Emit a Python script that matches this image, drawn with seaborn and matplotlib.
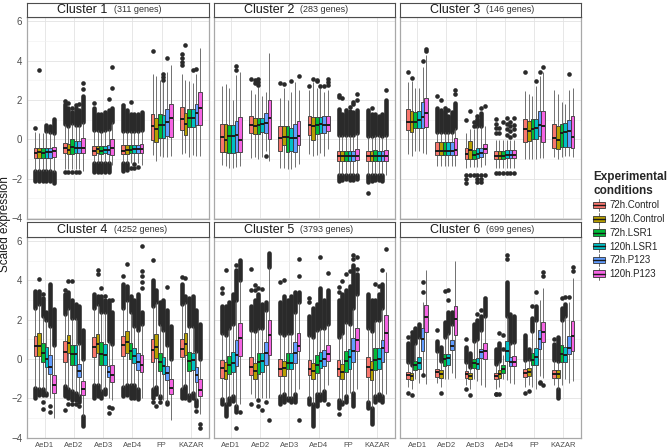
import numpy as np
import pandas as pd
import matplotlib
matplotlib.use("Agg")
import matplotlib.pyplot as plt
from matplotlib.patches import Patch, Rectangle
from matplotlib.lines import Line2D
from matplotlib.legend_handler import HandlerBase
import seaborn as sns

nan = np.nan

tissues = ["AeD1", "AeD2", "AeD3", "AeD4", "FP", "KAZAR"]
conditions = ["72h.Control", "120h.Control", "72h.LSR1", "120h.LSR1", "72h.P123", "120h.P123"]
palette = ["#F8766D", "#B79F00", "#00BA38", "#00BFC4", "#619CFF", "#F564E3"]
clusters = [1, 2, 3, 4, 5, 6]
gene_counts = [311, 283, 146, 4252, 3793, 699]

# box statistics: rows = tissues, columns = conditions
whisk_lo = {
    1: [[-1.6, -1.6, -1.6, -1.6, -1.6, -1.65], [-1.5, -1.5, -1.5, -1.5, -1.5, -1.6], [-1.2, -1.2, -1.2, -1.2, -1.2, -1.3],
        [-1.2, -1.2, -1.2, -1.15, -1.2, -1.3], [-0.8, -1.1, -0.85, -0.9, -0.9, -0.85], [-0.75, -0.7, -0.9, -0.8, -0.85, -0.85]],
    2: [[-1.3, -1.35, -1.45, -1.45, -1.4, -1.35], [-0.95, -0.9, -1.0, -0.9, -0.6, -1.1], [-1.45, -1.45, -1.5, -1.5, -1.4, -1.25],
        [-0.75, -0.85, -0.8, -0.7, -0.85, -0.5], [-1.8, -1.8, -1.8, -1.8, -1.8, -1.8], [-1.8, -1.8, -1.8, -1.8, -1.8, -1.8]],
    3: [[-0.75, -0.85, -0.6, -0.6, -0.7, -0.75], [-1.35, -1.35, -1.35, -1.35, -1.35, -1.35], [-1.45, -1.4, -1.4, -1.4, -1.4, -1.3],
        [-1.45, -1.45, -1.45, -1.45, -1.45, -1.45], [-1.0, -1.0, -1.0, -1.0, -0.95, -0.95], [-0.9, -1.0, -0.9, -0.85, -0.85, -0.9]],
    4: [[-1.45, -1.5, -1.5, -1.7, -2.0, -3.0], [-1.35, -1.5, -1.6, -1.7, -1.9, -2.9], [-1.3, -1.3, -1.6, -1.5, -2.0, -2.1],
        [-1.4, -1.3, -1.3, -1.3, -1.5, -2.0], [-1.5, -1.4, -1.9, -2.1, -2.2, -3.1], [-1.5, -1.35, -1.85, -1.7, -2.1, -2.8]],
    5: [[-2.05, -2.3, -2.0, -1.9, -2.4, -2.3], [-1.8, -2.0, -2.0, -2.0, -2.0, -2.0], [-1.9, -1.8, -2.0, -2.0, -1.8, -1.5],
        [-2.0, -2.3, -1.8, -1.8, -1.6, -1.3], [-2.1, -2.2, -1.9, -1.7, -1.7, -1.5], [-2.2, -2.5, -1.9, -1.8, -1.9, -1.8]],
    6: [[-1.4, -1.5, -1.0, -1.2, -0.75, -1.25], [-1.2, -1.4, -1.0, -1.0, -0.7, -0.95], [-1.3, -1.5, -1.0, -1.1, -1.3, -1.4],
        [-1.5, -1.4, -1.0, -1.05, -1.2, -1.25], [-1.4, -1.3, -1.4, -1.5, -0.85, -0.95], [-1.3, -1.5, -1.3, -1.0, -1.2, -1.1]],
}
q1 = {
    1: [[-0.95, -0.95, -0.95, -0.95, -0.95, -0.9], [-0.7, -0.75, -0.75, -0.7, -0.7, -0.7], [-0.8, -0.7, -0.75, -0.7, -0.75, -0.8],
        [-0.75, -0.75, -0.7, -0.7, -0.7, -0.7], [-0.05, -0.15, 0.05, 0.05, 0.15, 0.1], [0.45, 0.2, 0.65, 0.65, 0.75, 0.75]],
    2: [[-0.65, -0.65, -0.7, -0.7, -0.65, -0.65], [0.3, 0.25, 0.25, 0.35, 0.3, 0.0], [-0.6, -0.3, -0.65, -0.6, -0.65, -0.3],
        [0.2, -0.05, 0.25, 0.3, 0.3, 0.4], [-1.1, -1.1, -1.1, -1.1, -1.1, -1.05], [-1.1, -1.1, -1.1, -1.1, -1.1, -1.1]],
    3: [[0.45, 0.35, 0.55, 0.55, 0.55, 0.65], [-0.8, -0.8, -0.8, -0.8, -0.8, -0.8], [-1.0, -1.0, -1.0, -0.95, -0.9, -0.7],
        [-1.0, -1.0, -1.0, -0.95, -0.95, -0.95], [-0.15, -0.1, 0.0, 0.0, 0.15, -0.15], [-0.45, -0.5, -0.4, -0.4, -0.4, -0.45]],
    4: [[0.15, 0.15, -0.15, -0.4, -0.75, -1.7], [-0.15, 0.3, -0.3, -0.3, -0.9, -1.85], [0.1, 0.3, -0.3, -0.3, -0.9, -1.15],
        [0.15, 0.3, 0.0, -0.2, -0.55, -0.65], [-0.15, 0.05, -0.6, -0.75, -1.05, -1.8], [0.1, 0.2, -0.6, -0.55, -1.15, -1.9]],
    5: [[-0.95, -1.0, -0.75, -0.65, -0.35, 0.15], [-0.8, -1.0, -0.75, -0.65, -0.3, 0.2], [-0.85, -0.85, -0.5, -0.5, -0.2, 0.4],
        [-0.8, -1.0, -0.7, -0.45, -0.35, -0.1], [-0.85, -1.0, -0.65, -0.5, -0.15, 0.4], [-0.9, -1.05, -0.55, -0.5, -0.15, 0.35]],
    6: [[-1.0, -1.05, -0.55, -0.5, 0.4, 1.35], [-0.9, -0.95, -0.35, -0.3, 0.45, 1.2], [-0.95, -1.0, -0.45, -0.5, 0.05, 0.0],
        [-1.0, -0.95, -0.7, -0.1, -0.35, -0.35], [-0.9, -0.85, -0.3, -0.3, 0.5, 0.85], [-0.95, -0.95, -0.15, -0.15, 0.25, 0.4]],
}
median = {
    1: [[-0.7, -0.65, -0.7, -0.65, -0.65, -0.6], [-0.45, -0.55, -0.4, -0.45, -0.45, -0.45], [-0.6, -0.5, -0.6, -0.55, -0.55, -0.45],
        [-0.6, -0.55, -0.55, -0.5, -0.5, -0.5], [0.7, 0.5, 0.75, 0.75, 0.9, 1.1], [1.05, 0.8, 1.1, 1.1, 1.35, 1.6]],
    2: [[0.1, -0.05, 0.15, 0.15, 0.2, -0.05], [0.75, 0.7, 0.75, 0.8, 0.85, 1.1], [0.05, 0.1, 0.1, 0.05, 0.05, 0.15],
        [0.75, 0.7, 0.75, 0.8, 0.75, 0.75], [-0.85, -0.85, -0.85, -0.85, -0.85, -0.85], [-0.85, -0.85, -0.85, -0.85, -0.85, -0.85]],
    3: [[0.9, 0.9, 0.9, 1.0, 1.15, 1.35], [-0.6, -0.6, -0.6, -0.6, -0.6, -0.55], [-0.75, -0.55, -0.8, -0.75, -0.7, -0.5],
        [-0.85, -0.85, -0.85, -0.8, -0.8, -0.8], [0.5, 0.4, 0.5, 0.55, 0.75, 0.7], [0.05, -0.05, 0.3, 0.35, 0.4, 0.12]],
    4: [[0.65, 0.65, 0.3, 0.0, -0.4, -1.3], [0.35, 0.8, 0.25, 0.25, -0.6, -1.5], [0.6, 0.75, 0.25, 0.2, -0.65, -0.8],
        [0.7, 0.85, 0.4, 0.15, -0.15, -0.3], [0.45, 0.6, -0.15, -0.35, -0.7, -1.45], [0.5, 0.75, -0.1, -0.05, -0.8, -1.55]],
    5: [[-0.45, -0.6, -0.3, -0.2, 0.2, 1.05], [-0.4, -0.6, -0.15, -0.1, 0.3, 1.2], [-0.5, -0.45, -0.2, -0.2, 0.3, 0.65],
        [-0.5, -0.6, -0.3, -0.1, 0.0, 0.25], [-0.5, -0.65, -0.1, 0.1, 0.4, 0.95], [-0.4, -0.55, -0.05, 0.0, 0.55, 1.3]],
    6: [[-0.8, -0.85, -0.3, -0.2, 1.0, 2.15], [-0.65, -0.75, 0.0, 0.05, 0.65, 2.05], [-0.75, -0.85, -0.2, -0.25, 0.35, 0.4],
        [-0.85, -0.75, -0.5, 0.4, -0.15, -0.15], [-0.7, -0.65, -0.05, 0.1, 1.0, 1.35], [-0.75, -0.75, 0.25, 0.2, 0.55, 1.15]],
}
q3 = {
    1: [[-0.45, -0.45, -0.45, -0.45, -0.45, -0.4], [-0.2, -0.25, 0.0, -0.1, -0.1, 0.05], [-0.35, -0.35, -0.35, -0.35, -0.3, 0.0],
        [-0.3, -0.3, -0.3, -0.3, -0.3, -0.25], [1.3, 1.1, 1.3, 1.25, 1.55, 1.8], [1.65, 1.35, 1.55, 1.55, 1.8, 2.4]],
    2: [[0.8, 0.8, 0.75, 0.75, 0.95, 1.15], [1.2, 1.1, 1.1, 1.1, 1.35, 2.0], [0.7, 0.7, 0.7, 0.6, 0.8, 0.95],
        [1.2, 1.15, 1.15, 1.15, 1.2, 1.2], [-0.6, -0.6, -0.6, -0.6, -0.6, -0.5], [-0.6, -0.6, -0.55, -0.6, -0.6, -0.55]],
    3: [[1.55, 1.45, 1.4, 1.45, 1.9, 2.1], [-0.15, -0.15, -0.15, -0.15, -0.15, 0.05], [-0.45, -0.1, -0.55, -0.45, -0.45, -0.25],
        [-0.6, -0.6, -0.6, -0.55, -0.55, -0.55], [1.05, 0.95, 1.05, 1.05, 1.45, 1.45], [0.8, 0.7, 0.8, 0.85, 1.0, 1.2]],
    4: [[1.15, 1.3, 0.8, 0.6, 0.2, -0.8], [0.9, 1.2, 0.7, 0.7, -0.25, -1.1], [1.1, 1.25, 0.85, 0.75, -0.35, -0.3],
        [1.15, 1.45, 0.8, 0.55, 0.3, 0.2], [1.0, 1.25, 0.3, 0.1, -0.35, -1.0], [1.0, 1.3, 0.35, 0.3, -0.4, -1.0]],
    5: [[-0.05, -0.15, 0.15, 0.35, 0.95, 1.85], [0.1, -0.2, 0.3, 0.3, 0.85, 2.0], [0.0, -0.1, 0.3, 0.3, 0.85, 1.3],
        [-0.05, -0.2, 0.2, 0.35, 0.45, 0.7], [-0.05, -0.25, 0.4, 0.5, 1.05, 1.6], [0.1, -0.1, 0.55, 0.55, 0.95, 2.25]],
    6: [[-0.65, -0.7, -0.1, 0.1, 1.6, 2.75], [-0.5, -0.55, 0.25, 0.25, 0.95, 2.7], [-0.6, -0.7, 0.0, 0.05, 0.5, 0.8],
        [-0.7, -0.55, -0.3, 0.9, 0.1, 0.15], [-0.5, -0.45, 0.3, 0.55, 1.5, 1.9], [-0.55, -0.55, 0.7, 0.6, 1.15, 1.95]],
}
whisk_hi = {
    1: [[0.35, 0.3, 0.3, 0.4, 0.35, 0.3], [0.8, 0.7, 0.85, 0.75, 0.75, 0.9], [0.45, 0.45, 0.4, 0.45, 0.5, 0.9],
        [0.4, 0.4, 0.4, 0.4, 0.4, 0.45], [3.3, 3.2, 3.0, 2.9, 3.4, 3.75], [3.3, 3.0, 2.95, 2.85, 3.3, 4.65]],
    2: [[2.7, 2.8, 2.6, 2.0, 3.25, 3.4], [2.5, 2.3, 2.65, 2.2, 2.4, 4.4], [2.1, 2.6, 2.0, 2.4, 2.9, 2.5],
        [2.5, 2.9, 2.6, 2.6, 2.4, 2.5], [0.2, 0.2, 0.2, 0.2, 0.2, 0.3], [0.15, 0.15, 0.2, 0.2, 0.15, 0.2]],
    3: [[2.9, 2.95, 2.6, 2.6, 3.65, 4.3], [0.35, 0.35, 0.35, 0.35, 0.35, 0.6], [0.3, 0.5, 0.5, 0.7, 0.7, 0.7],
        [-0.05, -0.05, -0.05, -0.05, -0.05, -0.05], [2.45, 2.3, 2.2, 2.7, 3.2, 3.4], [2.5, 2.3, 1.9, 1.8, 2.5, 2.6]],
    4: [[2.6, 2.8, 2.2, 2.0, 1.7, 0.7], [2.3, 2.6, 2.1, 2.1, 0.8, 0.0], [2.6, 2.8, 2.4, 2.4, 0.9, 0.75],
        [2.6, 3.0, 2.4, 1.7, 1.5, 1.8], [2.7, 2.9, 1.8, 1.5, 0.7, 0.0], [2.8, 2.9, 1.7, 1.7, 0.4, 0.0]],
    5: [[1.3, 1.2, 1.6, 1.8, 3.0, 4.0], [1.5, 1.4, 1.6, 1.6, 2.5, 4.7], [1.3, 1.2, 1.3, 1.3, 2.4, 2.9],
        [1.2, 1.1, 1.5, 1.6, 1.6, 1.8], [1.1, 1.3, 1.9, 1.8, 2.6, 3.3], [1.6, 1.4, 2.0, 2.0, 2.6, 4.4]],
    6: [[-0.15, -0.3, 0.8, 1.1, 2.9, 4.5], [0.4, -0.1, 1.1, 1.3, 1.8, 5.0], [-0.15, -0.4, 0.9, 1.0, 1.5, 2.2],
        [-0.25, -0.1, 0.2, 2.2, 0.8, 0.85], [-0.05, 0.0, 1.4, 2.0, 3.0, 3.6], [-0.05, -0.1, 2.0, 2.2, 2.9, 4.1]],
}
# end of the dense runs of outliers above / below each box (nan = no dense run)
dense_hi = {
    1: [[nan, nan, nan, 0.75, 0.7, 1.05], [1.8, 1.6, 1.4, 1.6, 1.5, 2.2], [1.6, 1.3, 1.3, 1.4, 1.5, 1.6],
        [1.65, 1.5, 1.3, 1.3, 1.3, 1.4], [nan] * 6, [nan] * 6],
    2: [[nan] * 6, [nan] * 6, [nan] * 6, [nan] * 6,
        [1.55, 1.3, 1.4, 1.45, 1.4, 1.5], [1.5, 1.3, 1.3, 1.2, 1.3, 2.0]],
    3: [[nan] * 6, [1.6, 1.5, 1.45, 1.2, 1.4, 1.85], [nan, nan, nan, 1.05, 1.35, nan],
        [nan] * 6, [nan] * 6, [nan] * 6],
    4: [[3.45, 3.45, 3.1, 2.4, 3.8, 2.55], [3.3, 3.4, 3.0, 2.8, 2.7, 1.5], [3.3, 3.2, 3.2, 3.0, 3.0, 2.4],
        [3.8, 3.7, 3.2, 3.0, 3.3, 2.4], [4.0, 3.5, 2.9, 3.0, 2.5, 1.7], [3.8, 3.2, 3.1, 3.2, 2.5, 1.8]],
    5: [[2.7, 2.7, 2.9, 3.3, 4.5, 5.05], [2.7, 3.0, 3.3, 2.8, 2.9, 5.4], [2.9, 3.2, 3.0, 3.2, 3.4, 3.4],
        [2.2, 2.6, 2.8, 3.6, 3.0, 3.5], [3.0, 3.3, 3.5, 3.7, 4.8, 4.3], [3.3, 3.0, 3.0, 3.3, 3.8, nan]],
    6: [[0.8, 1.2, 1.6, 1.8, nan, nan], [0.9, 0.6, 1.9, 2.4, 2.4, nan], [0.6, 0.3, 1.8, 2.0, 2.2, 3.0],
        [0.5, 0.8, nan, 3.9, 2.3, 2.2], [1.2, 0.5, 2.1, 2.7, nan, nan], [0.75, 1.1, 2.6, 2.8, nan, nan]],
}
dense_lo = {
    1: [[-2.1, -2.1, -2.1, -2.1, -2.1, -2.2], [nan] * 6, [-1.65, -1.65, -1.65, -1.65, -1.65, nan],
        [-1.6, -1.55, nan, nan, nan, nan], [nan] * 6, [nan] * 6],
    2: [[nan] * 6, [nan] * 6, [nan] * 6, [nan] * 6,
        [-2.1, -2.05, -2.0, -2.05, -2.05, -2.0], [-2.15, -2.1, -2.05, -2.05, -2.1, nan]],
    3: [[nan] * 6] * 6,
    4: [[-2.0, -1.85, -1.85, -1.85, nan, nan], [-1.9, -2.0, -2.1, -2.1, -2.2, -3.4], [-2.0, -1.9, -2.0, -1.8, nan, nan],
        [-1.9, -1.85, -2.0, -2.0, -2.05, nan], [-2.0, -1.8, -2.0, nan, -2.3, nan], [-2.0, -2.0, -2.1, -2.0, -2.4, nan]],
    5: [[-2.3, -2.9, -2.3, -2.15, -2.7, nan], [nan] * 6, [-2.3, -2.2, -2.1, -2.2, -2.2, nan],
        [-2.3, -3.4, -2.4, -2.1, -2.1, nan], [-2.5, -2.3, -2.2, nan, -2.4, nan], [-2.5, -3.3, -2.2, -2.1, -2.2, nan]],
    6: [[nan] * 6, [nan] * 6, [nan] * 6, [nan] * 6, [nan] * 6, [nan, -2.0, nan, nan, nan, nan]],
}
# single outliers: (tissue index, condition index, value)
single_pts = {
    1: [(0, 0, 0.6), (0, 1, 3.5), (1, 0, -1.65), (1, 1, -1.65), (1, 2, -1.65), (1, 3, -1.65), (1, 4, -1.65),
        (1, 0, 1.95), (1, 1, 1.85), (1, 2, 1.6), (1, 3, 1.75), (1, 4, 1.8), (1, 5, 2.55), (1, 5, 2.85),
        (2, 0, 1.85), (2, 4, 2.05), (2, 5, 2.6), (2, 5, 3.65), (3, 0, 1.75), (3, 2, 1.9),
        (3, 2, -1.45), (3, 3, -1.25), (3, 3, -1.45), (3, 4, -1.4),
        (4, 0, 4.5), (4, 3, 3.3), (4, 3, 3.15), (4, 3, 3.0), (4, 4, 4.15),
        (5, 0, 3.75), (5, 0, 3.95), (5, 0, 4.15), (5, 0, 4.35), (5, 1, 4.8), (5, 3, 3.5), (5, 4, 3.55)],
    2: [(0, 4, 3.5), (0, 4, 3.7), (1, 0, 3.05), (1, 1, 2.85), (1, 1, 3.0), (1, 2, 2.75), (1, 2, 2.9), (1, 2, 3.05),
        (1, 4, -0.85), (2, 0, 2.85), (2, 1, 2.8), (2, 3, 2.95), (2, 5, 3.2),
        (3, 0, 2.7), (3, 1, 3.05), (3, 2, 2.95), (3, 2, 3.0), (3, 3, 2.7), (3, 4, 2.7), (3, 5, 2.75), (3, 5, 2.9), (3, 5, 3.05),
        (4, 0, 2.25), (4, 0, 2.15), (4, 1, 2.1), (4, 2, 1.5), (4, 3, 1.65), (4, 4, 1.8), (4, 4, 1.9), (4, 5, 2.0), (4, 5, 2.3),
        (5, 0, -2.7), (5, 1, 1.6), (5, 5, 2.5)],
    3: [(0, 0, 3.4), (0, 1, 3.1), (0, 4, 4.0), (0, 5, 4.5), (0, 5, 4.6),
        (1, 0, 2.2), (1, 1, 2.0), (1, 2, 1.6), (1, 3, 1.5), (1, 5, 2.3), (1, 5, 2.5),
        (2, 0, 1.0), (2, 1, 1.45), (2, 2, 0.7), (2, 2, 0.9), (2, 3, 1.2), (2, 4, 1.6), (2, 5, 1.7),
        (2, 0, -1.8), (2, 1, -1.8), (2, 2, -1.8), (2, 3, -1.8), (2, 4, -1.8), (2, 5, -1.8),
        (2, 0, -2.0), (2, 0, -2.2), (2, 3, -2.0), (2, 3, -2.15), (2, 4, -2.0), (2, 4, -2.15),
        (3, 0, 0.3), (3, 0, 0.55), (3, 0, 0.8), (3, 0, 1.05), (3, 1, 0.3), (3, 1, 0.55), (3, 2, 0.9),
        (3, 3, 0.2), (3, 3, 0.5), (3, 3, 0.8), (3, 3, 1.1), (3, 4, 0.1), (3, 4, 0.4), (3, 4, 0.7), (3, 4, 0.9),
        (3, 5, 0.2), (3, 5, 0.5), (3, 5, 0.75), (3, 5, 1.1),
        (3, 0, -1.7), (3, 1, -1.7), (3, 2, -1.7), (3, 3, -1.7), (3, 4, -1.7), (3, 5, -1.7),
        (4, 0, 3.4), (4, 3, 2.95), (4, 4, 3.4), (4, 5, 3.65), (5, 4, 3.3)],
    4: [(0, 1, 4.05), (0, 2, -2.2), (0, 2, -2.55), (0, 2, 3.3), (0, 4, -2.4), (0, 4, -2.7),
        (1, 0, -2.6), (1, 0, 3.5), (1, 1, 3.95), (1, 1, -2.3), (1, 2, 3.95), (1, 2, -2.3), (1, 3, -2.3), (1, 4, -2.4),
        (2, 1, 4.3), (2, 1, 4.5), (2, 2, 3.6), (2, 3, 3.2), (2, 4, -2.45), (2, 4, -2.75), (2, 5, -2.5), (2, 5, 3.0),
        (3, 0, 4.2), (3, 1, 4.85), (3, 5, 3.6), (3, 5, 3.9), (3, 5, 4.2), (3, 5, 4.45), (3, 5, 5.75),
        (4, 0, 5.05), (4, 0, -2.2), (4, 1, -2.4), (4, 2, -2.2), (4, 4, 3.65),
        (5, 0, 4.15), (5, 1, 4.1), (5, 4, -2.65), (5, 5, -3.3), (5, 5, -3.5)],
    5: [(0, 0, 3.35), (0, 0, 3.6), (0, 1, 4.5), (0, 4, -3.5), (0, 4, 4.8), (0, 5, -2.7),
        (1, 0, -2.3), (1, 0, 3.5), (1, 0, 4.55), (1, 1, 3.5), (1, 1, 3.75), (1, 2, -2.1), (1, 2, -2.4), (1, 2, 3.6),
        (1, 3, -2.6), (1, 3, 3.55), (1, 4, -2.2), (1, 5, -3.1),
        (2, 0, 3.9), (2, 1, 4.0), (2, 5, -3.1), (2, 5, 4.2), (2, 5, 5.1),
        (3, 0, 2.9), (3, 0, 3.1), (3, 3, 5.2), (3, 5, -2.3), (3, 5, 4.35),
        (4, 0, 3.4), (4, 0, 3.65), (4, 0, -2.8), (4, 1, 3.95), (4, 2, 4.3), (4, 3, 4.45), (4, 4, 5.1), (4, 4, 5.3),
        (4, 5, 4.55), (4, 5, 5.2), (5, 2, 3.8), (5, 3, 3.7), (5, 4, 4.5), (5, 5, 5.6)],
    6: [(0, 0, -1.7), (0, 0, 1.1), (0, 1, -1.85), (0, 1, 1.35), (0, 4, -0.8), (0, 4, 3.4), (0, 4, 3.9),
        (1, 0, 1.5), (1, 1, -1.7), (1, 2, 3.45), (1, 3, 3.5), (1, 3, 3.0),
        (2, 0, -1.5), (2, 0, 1.0), (2, 1, -1.85), (2, 3, 2.3), (2, 4, 2.5), (2, 5, 3.1),
        (3, 0, -1.75), (3, 0, -1.8), (3, 1, -1.75), (3, 1, 1.3), (3, 2, 0.5), (3, 2, 1.2), (3, 3, 5.1), (3, 3, 5.3),
        (4, 0, -1.7), (4, 1, -1.6), (4, 2, 2.7), (4, 3, 3.4), (4, 4, -1.15), (4, 4, -1.2), (4, 5, -1.3),
        (4, 5, 4.2), (4, 5, 4.4),
        (5, 0, 1.0), (5, 2, 3.1), (5, 3, 3.15), (5, 4, 3.15), (5, 5, 4.45), (5, 5, 4.7)],
}

# long table: each box is rebuilt from its five read statistics
rows = []
for c in clusters:
    for ti, t in enumerate(tissues):
        for hi_, cond in enumerate(conditions):
            for stat in (whisk_lo, q1, median, q3, whisk_hi):
                rows.append((c, t, cond, stat[c][ti][hi_]))
df = pd.DataFrame(rows, columns=["cluster", "tissue", "condition", "value"])

sns.set_style("white")
plt.rcParams["font.family"] = ["Liberation Sans", "DejaVu Sans"]

W, H = 669, 448
fig = plt.figure(figsize=(W / 100, H / 100), dpi=100)


def px_box(x0, y0, x1, y1):
    return [x0 / W, 1 - y1 / H, (x1 - x0) / W, (y1 - y0) / H]


col_px = [(27, 208.5), (213.5, 394.5), (399.5, 581)]
row_px = [(17.2, 218.7), (237, 438.4)]
strip_h = 14.5
box_w = 0.75
dot_col = "#2a2a2a"
ylim = (-4.03, 6.2)

for k, c in enumerate(clusters):
    r, col = divmod(k, 3)
    x0, x1 = col_px[col]
    y0, y1 = row_px[r]
    ax = fig.add_axes(px_box(x0, y0, x1, y1))
    sub = df[df["cluster"] == c]
    sns.boxplot(data=sub, x="tissue", y="value", hue="condition", order=tissues,
                hue_order=conditions, palette=palette, width=box_w, gap=0,
                whis=np.inf, saturation=1, linewidth=0.6, linecolor="#333333",
                showcaps=False, medianprops={"linewidth": 1.4, "color": "#1a1a1a"},
                whiskerprops={"color": "#5a5a5a"}, legend=False, ax=ax)

    # outliers, placed at the dodged box positions
    each = box_w / len(conditions)
    for ti in range(len(tissues)):
        for hi_ in range(len(conditions)):
            xp = ti + (hi_ - (len(conditions) - 1) / 2) * each
            top = dense_hi[c][ti][hi_]
            if not np.isnan(top):
                ax.vlines(xp, whisk_hi[c][ti][hi_], top, colors=dot_col, linewidth=3.3,
                          capstyle="round", zorder=1.5)
            bot = dense_lo[c][ti][hi_]
            if not np.isnan(bot):
                ax.vlines(xp, bot, whisk_lo[c][ti][hi_], colors=dot_col, linewidth=3.3,
                          capstyle="round", zorder=1.5)
    pts = single_pts[c]
    px = [ti + (hi_ - (len(conditions) - 1) / 2) * each for ti, hi_, v in pts]
    py = [v for ti, hi_, v in pts]
    ax.scatter(px, py, s=11, color=dot_col, linewidths=0, zorder=3)

    ax.set_xlim(-0.6, len(tissues) - 0.4)
    ax.set_ylim(*ylim)
    ax.set_xlabel("")
    ax.set_ylabel("")
    ax.set_yticks([-4, -2, 0, 2, 4, 6])
    ax.set_yticks([-3, -1, 1, 3, 5], minor=True)
    ax.grid(True, which="major", color="#e3e3e3", linewidth=0.6)
    ax.grid(True, which="minor", axis="y", color="#f0f0f0", linewidth=0.4)
    ax.set_axisbelow(True)
    for s in ax.spines.values():
        s.set_color("#a8a8a8")
        s.set_linewidth(0.9)
    ax.tick_params(axis="y", which="minor", length=0)
    if col == 0:
        ax.tick_params(axis="y", which="major", length=2, width=0.5, color="#b3b3b3",
                       pad=1.5, labelsize=7, labelcolor="#4d4d4d")
    else:
        ax.tick_params(axis="y", which="major", length=0, labelleft=False)
    if r == 1:
        ax.tick_params(axis="x", length=1.5, width=0.5, color="#b3b3b3", pad=0.8,
                       labelsize=5.5, labelcolor="#4d4d4d")
    else:
        ax.tick_params(axis="x", length=0, labelbottom=False)

    # strip on top of the panel
    sax = fig.add_axes(px_box(x0, y0 - strip_h, x1, y0))
    sax.set_xticks([])
    sax.set_yticks([])
    sax.set_facecolor("white")
    for s in sax.spines.values():
        s.set_color("#4d4d4d")
        s.set_linewidth(0.8)
    cx = (x0 + x1) / 2
    yc = 1 - (y0 - strip_h / 2) / H
    fig.text((cx - 10) / W, yc, f"Cluster {c}", ha="right", va="center",
             fontsize=9, color="#1a1a1a")
    fig.text((cx - 4) / W, yc, f"({gene_counts[k]} genes)", ha="left", va="center",
             fontsize=6.5, color="#333333")

fig.text(5.5 / W, 1 - 224 / H, "Scaled expression", rotation=90, ha="center", va="center",
         fontsize=8.5, color="#1a1a1a")


class BoxKey(HandlerBase):
    def create_artists(self, legend, orig_handle, xdescent, ydescent, width, height,
                       fontsize, trans):
        x0, y0 = -xdescent, -ydescent
        cx = x0 + width / 2
        whisk = Line2D([cx, cx], [y0 - 0.25 * height, y0 + 1.25 * height],
                       color="#5a5a5a", lw=0.6, transform=trans)
        rect = Rectangle((x0, y0 + 0.1 * height), width, 0.8 * height,
                         facecolor=orig_handle.get_facecolor(), edgecolor="#333333",
                         lw=0.6, transform=trans)
        med = Line2D([x0, x0 + width], [y0 + 0.5 * height] * 2, color="#1a1a1a",
                     lw=1.0, transform=trans)
        return [whisk, rect, med]


handles = [Patch(facecolor=p) for p in palette]
fig.legend(handles, conditions, loc="upper left", bbox_to_anchor=(593 / W, 1 - 171 / H),
           frameon=False, title="Experimental\nconditions",
           title_fontproperties={"weight": "bold", "size": 8.5}, alignment="left",
           handler_map={Patch: BoxKey()}, fontsize=7, handlelength=1.2,
           handleheight=0.9, labelspacing=0.38, handletextpad=0.5,
           borderpad=0, borderaxespad=0)

fig.savefig("out.png", dpi=100)
